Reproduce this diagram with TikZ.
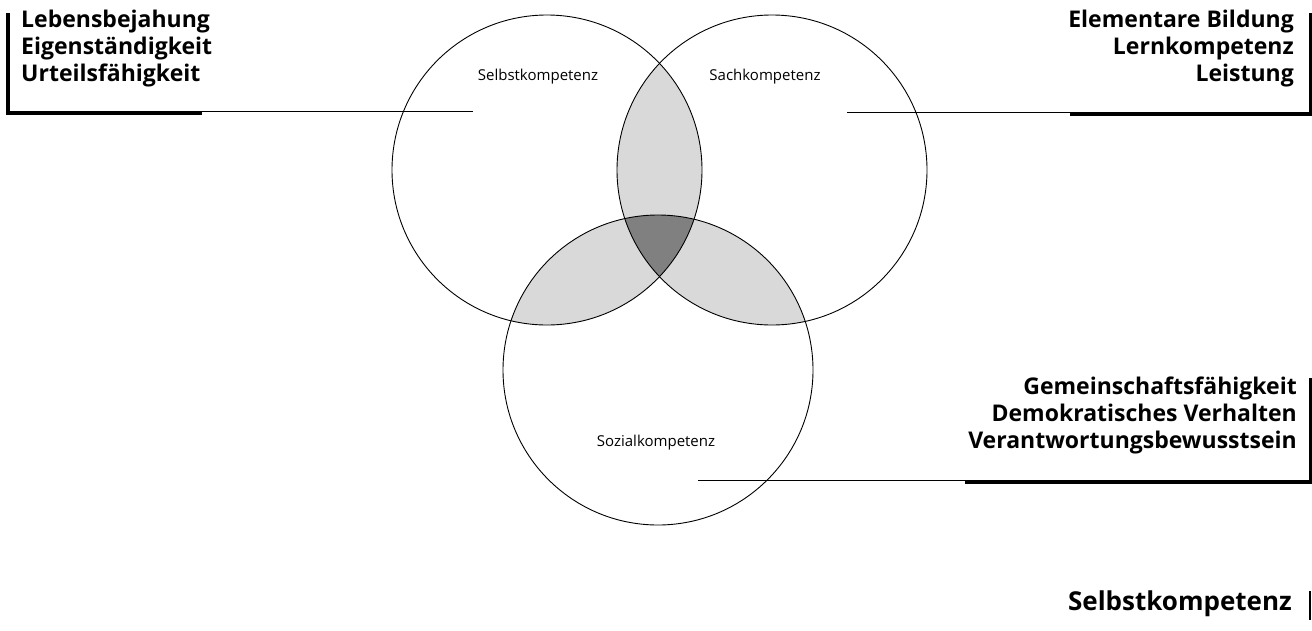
\documentclass[tikz,border=0pt]{standalone}
\usepackage{fontspec}
\setmainfont{Open Sans}
\usetikzlibrary{positioning}

\begin{document}
\begin{tikzpicture}[x=1pt, y=-1pt,
  kreis/.style={draw, circle, line width=0.9pt, minimum size=310pt, inner sep=0pt},
  komp/.style={font=\fontsize{15}{17}\selectfont, inner sep=0pt},
  ziel/.style={font=\fontsize{23}{27}\selectfont\bfseries, inner sep=0pt},
  balken/.style={line width=4pt},
  strich/.style={line width=0.9pt}
]
\useasboundingbox (0,0) rectangle (1312,630);
\coordinate (mA) at (547,170);
\coordinate (mB) at (772,170);
\coordinate (mC) at (658,370);
% Schnittflaechen
\begin{scope}
  \clip (mA) circle (155);
  \fill[gray!30] (mB) circle (155);
  \fill[gray!30] (mC) circle (155);
\end{scope}
\begin{scope}
  \clip (mB) circle (155);
  \fill[gray!30] (mC) circle (155);
\end{scope}
\begin{scope}
  \clip (mA) circle (155);
  \clip (mB) circle (155);
  \fill[gray] (mC) circle (155);
\end{scope}
\node[kreis] (selbst) at (mA) {};
\node[kreis] (sach) at (mB) {};
\node[kreis] (sozial) at (mC) {};
\node[komp] (tselbst) at (538,77) {Selbstkompetenz};
\node[komp] (tsach) at (765,77) {Sachkompetenz};
\node[komp] (tsozial) at (656,443) {Sozialkompetenz};

\node[ziel, anchor=north west, align=left] (links) at (21,10)
  {Lebensbejahung\\Eigenständigkeit\\Urteilsfähigkeit};
\node[ziel, anchor=north east, align=right] (rechts) at (1294,10)
  {Elementare Bildung\\Lernkompetenz\\Leistung};
\node[ziel, anchor=north east, align=right] (unten) at (1297,377)
  {Gemeinschaftsfähigkeit\\Demokratisches Verhalten\\Verantwortungsbewusstsein};
\node[font=\fontsize{26}{30}\selectfont\bfseries, inner sep=0pt, anchor=east]
  (titel) at (1292,604) {Selbstkompetenz};

\coordinate (pA) at (473,111);
\coordinate (pB) at (847,112);
\coordinate (pC) at (698,480);
\coordinate (eA) at (8,111);
\coordinate (eB) at (1310,112);
\coordinate (eC) at (1310,480);

\draw[strich] (eA) -- (pA);
\draw[strich] (eB) -- (pB);
\draw[strich] (eC) -- (pC);
\draw[balken] (8,13) -- (8,113) -- (202,113);
\draw[balken, line width=3pt] (1310,13) -- (1310,114);
\draw[balken] (1070,114) -- (1312,114);
\draw[balken, line width=3pt] (1310,378) -- (1310,483);
\draw[balken] (965,482) -- (1312,482);
\draw[balken, line width=2.5pt] (1310,591) -- (1310,620);
\end{tikzpicture}
\end{document}
